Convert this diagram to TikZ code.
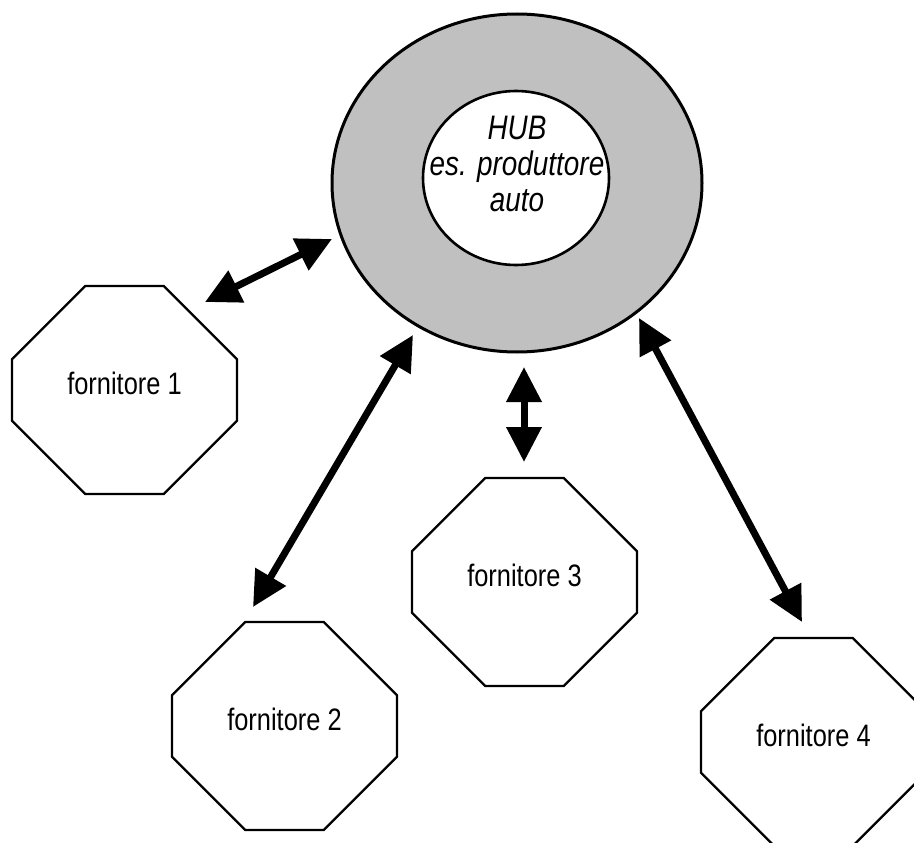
\documentclass[tikz,border=0pt]{standalone}
\usepackage{fontspec}
\setmainfont{Liberation Sans}
\newfontfamily\labfont[FakeStretch=0.82]{Liberation Sans}
\usetikzlibrary{shapes.geometric,shapes.misc,arrows.meta}
\definecolor{hubgray}{RGB}{192,192,192}
\begin{document}
\begin{tikzpicture}[x=1pt,y=-1pt,
  octa/.style={chamfered rectangle, chamfered rectangle xsep=61pt, chamfered rectangle ysep=61pt,
    draw=black, line width=2.4pt, minimum width=225pt, minimum height=208pt,
    inner sep=0pt, outer sep=0pt, fill=white,
    font=\labfont\fontsize{31}{36}\selectfont, text height=20pt, text depth=12pt},
  hubout/.style={ellipse, draw=black, line width=3pt, fill=hubgray,
    minimum width=370pt, minimum height=338pt, inner sep=0pt, outer sep=0pt},
  hubin/.style={ellipse, draw=black, line width=2.6pt, fill=white,
    minimum width=186pt, minimum height=174pt, inner sep=0pt, outer sep=0pt},
  hubtext/.style={align=center, inner sep=0pt, font=\labfont\itshape\fontsize{34}{36}\selectfont},
  dblarrow/.style={line width=7pt,
    {Triangle[length=35pt,width=34pt]}-{Triangle[length=35pt,width=34pt]}}
]
\useasboundingbox (0,0) rectangle (914,843);
\clip (0,0) rectangle (914,843);
\fill[white] (0,0) rectangle (914,843);

% hub
\node[hubout] (hub) at (517,183) {};
\node[hubin] (core) at (516,178) {};
\node[hubtext] (hubtxt) at (517,163.5) {HUB\\es. produttore\\auto};

% suppliers
\node[octa] (f1) at (124.5,390) {fornitore 1};
\node[octa] (f2) at (284.5,726) {fornitore 2};
\node[octa] (f3) at (524.5,582) {fornitore 3};
\node[octa] (f4) at (813.5,742) {fornitore 4};

% arrow end points
\coordinate (a1s) at (205,302);
\coordinate (a1e) at (332,239);
\coordinate (a2s) at (253,607);
\coordinate (a2e) at (413,335);
\coordinate (a3s) at (524,462);
\coordinate (a3e) at (524,367);
\coordinate (a4s) at (802,622);
\coordinate (a4e) at (639,318);

\draw[dblarrow] (a1s) -- (a1e);
\draw[dblarrow] (a2s) -- (a2e);
\draw[dblarrow] (a3s) -- (a3e);
\draw[dblarrow] (a4s) -- (a4e);
\end{tikzpicture}
\end{document}
